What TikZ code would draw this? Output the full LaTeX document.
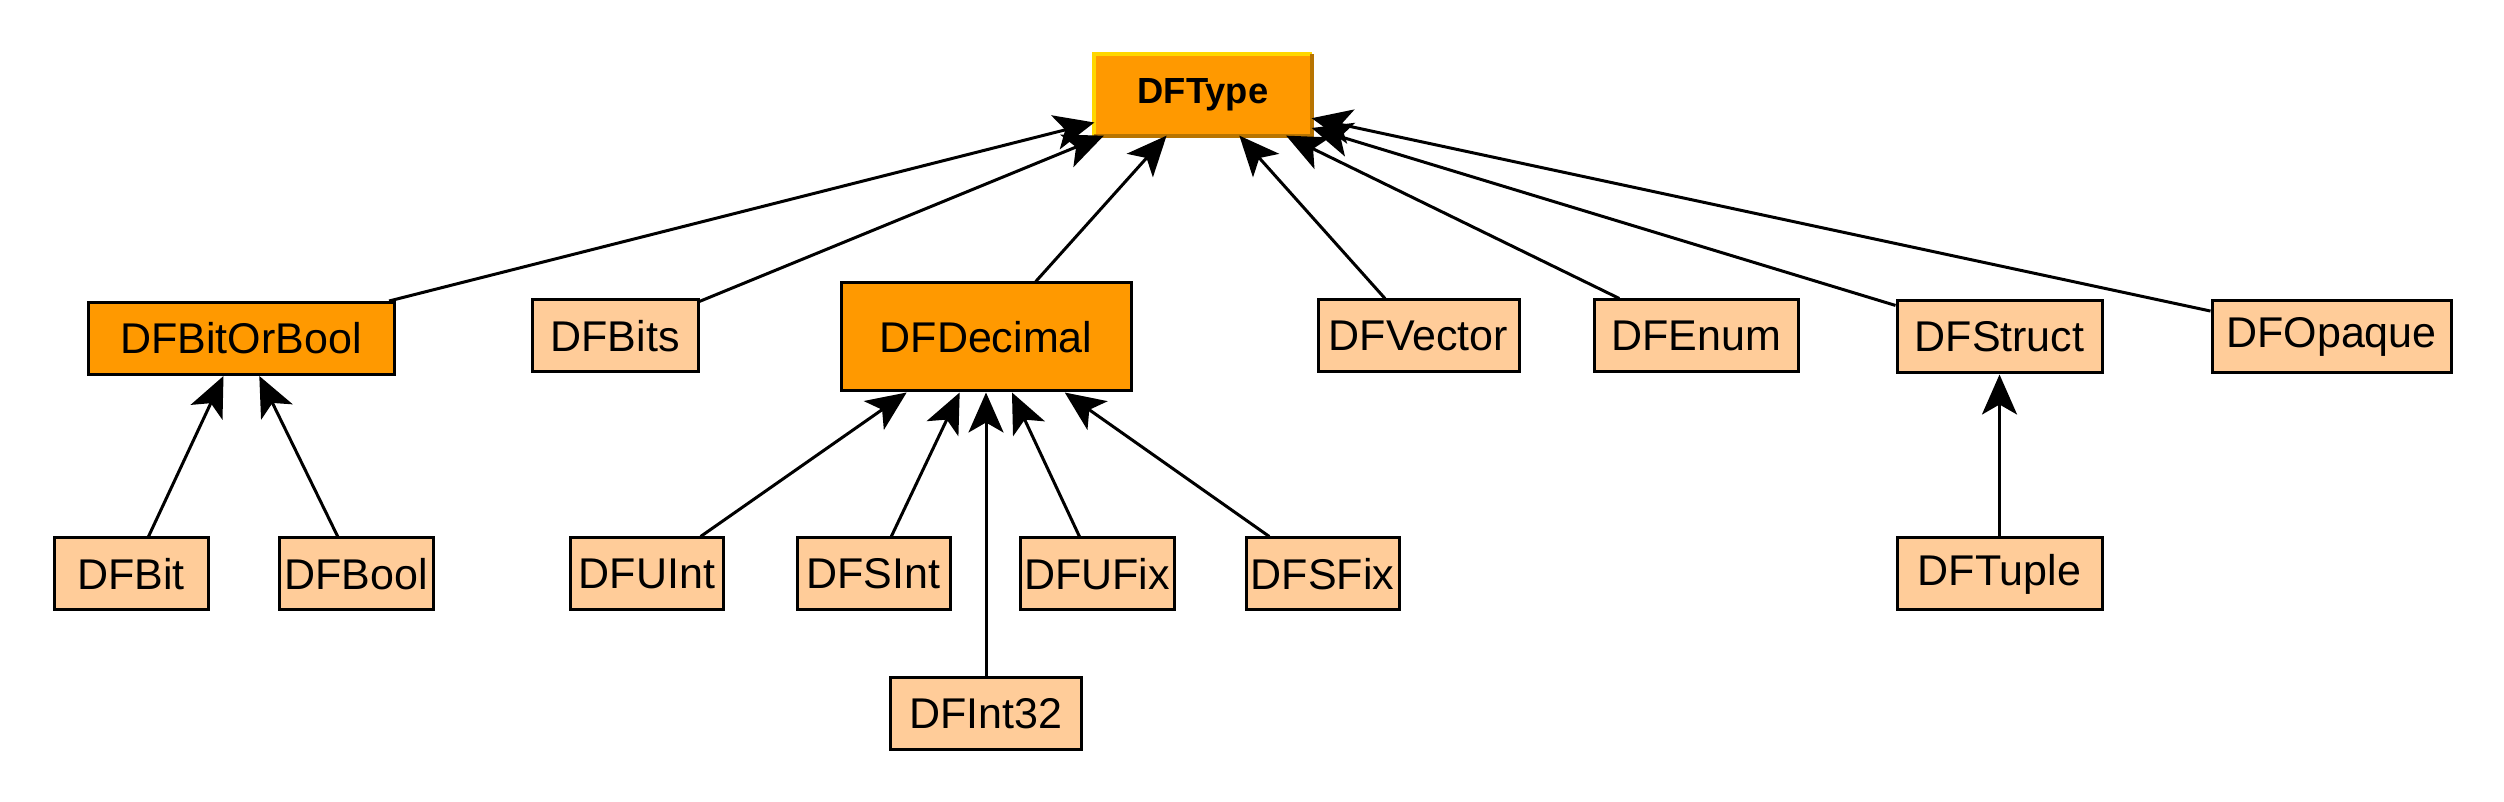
\documentclass[tikz,border=0pt]{standalone}
\usepackage{fontspec}
\setmainfont{Liberation Sans}
\usepackage{tikz}
\usetikzlibrary{arrows.meta}
\definecolor{dforange}{HTML}{FF9900}
\definecolor{dflight}{HTML}{FFCC99}
\definecolor{dfgold}{HTML}{FFD700}
\definecolor{dfdark}{HTML}{B87400}
\begin{document}
\begin{tikzpicture}[x=0.3pt,y=-0.3pt,
  dfbox/.style={draw=black,line width=0.9pt,fill=dflight,inner sep=0pt,
    minimum height=21.6pt,font=\fontsize{12.9}{14}\selectfont},
  dfkey/.style={dfbox,fill=dforange},
  dfroot/.style={fill=dforange,inner sep=0pt,minimum width=64.8pt,
    minimum height=24pt,font=\fontsize{10.9}{12}\bfseries},
  isa/.style={draw=black,line width=0.9pt,
    -{Stealth[length=12pt,width=10.5pt,inset=3pt]}}]
\useasboundingbox (0,0) rectangle (2504,802);
% root:
\node[dfroot] (type) at (1203,95) {DFType};
\draw[dfgold,line width=1.2pt] (type.south west) -- (type.north west) -- (type.north east);
\draw[dfdark,line width=1.2pt] (type.north east) -- (type.south east) -- (type.south west);
% first level:
\node[dfkey,minimum width=91.8pt] (bitorbool) at (241,338.5) {DFBitOrBool};
\node[dfbox,minimum width=49.8pt] (bits) at (615,336) {DFBits};
\node[dfkey,minimum width=87pt,minimum height=32.4pt] (decimal) at (986,337) {DFDecimal};
\node[dfbox,minimum width=60.3pt] (vector) at (1418.5,336) {DFVector};
\node[dfbox,minimum width=61.2pt] (enum) at (1696,336) {DFEnum};
\node[dfbox,minimum width=61.5pt] (struct) at (1999.5,337) {DFStruct};
\node[dfbox,minimum width=71.7pt] (opaque) at (2331.5,337) {DFOpaque};
% second level:
\node[dfbox,minimum width=46.2pt] (bit) at (131,574) {DFBit};
\node[dfbox,minimum width=46.2pt] (bool) at (356,574) {DFBool};
\node[dfbox,minimum width=45.9pt] (uint) at (647,574) {DFUInt};
\node[dfbox,minimum width=45.9pt] (sint) at (873.5,574) {DFSInt};
\node[dfbox,minimum width=46.2pt] (ufix) at (1097,574) {DFUFix};
\node[dfbox,minimum width=45.9pt] (sfix) at (1322.5,574) {DFSFix};
\node[dfbox,minimum width=61.5pt] (tuple) at (1999.5,574) {DFTuple};
% third level:
\node[dfbox,minimum width=57.3pt] (int32) at (986,714) {DFInt32};
% inheritance:
\path[isa] (bitorbool) -- (type);
\path[isa] (bits) -- (type);
\path[isa] (decimal) -- (type);
\path[isa] (vector) -- (type);
\path[isa] (enum) -- (type);
\path[isa] (struct) -- (type);
\path[isa] (opaque) -- (type);
\path[isa] (bit) -- (bitorbool);
\path[isa] (bool) -- (bitorbool);
\path[isa] (uint) -- (decimal);
\path[isa] (sint) -- (decimal);
\path[isa] (int32) -- (decimal);
\path[isa] (ufix) -- (decimal);
\path[isa] (sfix) -- (decimal);
\path[isa] (tuple) -- (struct);
\end{tikzpicture}
\end{document}
